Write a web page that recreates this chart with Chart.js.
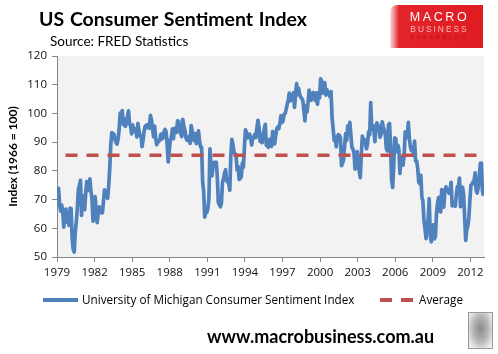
<!DOCTYPE html>
<html>
<head>
<meta charset="utf-8">
<script src="https://cdn.jsdelivr.net/npm/chart.js@4.4.0/dist/chart.umd.min.js"></script>
<style>
  html, body { margin: 0; padding: 0; background: #fff; }
  #wrap { position: relative; width: 498px; height: 354px; overflow: hidden; }
  #chart { position: absolute; left: 0; top: 0; }
  .txt { position: absolute; white-space: nowrap; }
  #title { left: 39px; top: 9.4px; font: bold 19.5px/19.5px Lato, sans-serif; word-spacing: 1px; color: #000; }
  #source { left: 50px; top: 34.7px; font: 13.5px/13.5px Lato, sans-serif; color: #000; }
  #logo { position: absolute; left: 390px; top: 5px; width: 93px; height: 43px;
          border-top-left-radius: 7px;
          background: linear-gradient(90deg, rgba(235,60,60,0.15) 0px, #e3252b 9px, #e01b22 100%); }
  .logo-line { position: absolute; left: 393px; width: 93px; text-align: center;
               font-family: "Liberation Sans", Arial, sans-serif; }
  #macro { top: 11.4px; font-size: 12.5px; line-height: 12.5px; letter-spacing: 2.6px; color: #fff; }
  #business { top: 24.9px; font-size: 8.4px; line-height: 8.4px; letter-spacing: 2px; color: #f6b9b9; }
  #superblog { top: 35px; font-size: 5.6px; line-height: 5.6px; letter-spacing: 2.6px; color: #b3141a; }
  .leg { font: 11.7px/11.7px "Open Sans", sans-serif; top: 293.5px; color: #000; }
  .swatch { position: absolute; top: 298px; height: 3.5px; }
  #url { left: 207px; top: 327.3px; font: bold 18px/18px Lato, sans-serif; color: #000; }
  #wolf { position: absolute; left: 468px; top: 312px; width: 23px; height: 35px;
          border: 1px solid #9a9a9a;
          background: radial-gradient(ellipse at 50% 45%, #8a8a8a 0%, #b4b4b4 45%, #e6e6e6 80%, #f4f4f4 100%); }
</style>
</head>
<body>
<div id="wrap">
  <canvas id="chart" width="498" height="354"></canvas>
  <div class="txt" id="title">US Consumer Sentiment Index</div>
  <div class="txt" id="source">Source: FRED Statistics</div>
  <div id="logo"></div>
  <div class="txt logo-line" id="macro">MACRO</div>
  <div class="txt logo-line" id="business">BUSINESS</div>
  <div class="txt logo-line" id="superblog">SUPERBLOG</div>
  <div class="swatch" style="left:43px;width:35px;background:#4F81BD;"></div>
  <div class="txt leg" style="left:82px;">University of Michigan Consumer Sentiment Index</div>
  <div class="swatch" style="left:380px;width:12px;background:#C0504D;"></div>
  <div class="swatch" style="left:401px;width:12px;background:#C0504D;"></div>
  <div class="txt leg" style="left:419px;">Average</div>
  <div class="txt" id="url">www.macrobusiness.com.au</div>
  <div id="wolf"></div>
</div>
<script>
'use strict';

// monthly values, Jan 1979 .. Jan 2013
let startYear = 1979;
let sentiment = [
  72.1, 73.9, 68.4, 66.0, 68.1, 65.8, 60.4, 64.5, 66.7, 62.1, 63.3, 61.0,
  67.0, 66.9, 56.5, 52.7, 51.7, 58.7, 62.3, 67.3, 73.7, 75.0, 76.7, 64.5,
  71.4, 66.9, 66.5, 72.4, 76.3, 73.1, 74.1, 77.2, 73.1, 70.3, 62.5, 64.3,
  71.0, 66.5, 62.0, 65.5, 67.5, 65.7, 65.4, 65.4, 69.3, 73.4, 72.1, 71.9,
  70.4, 74.6, 80.8, 89.1, 93.3, 92.2, 92.8, 90.9, 89.9, 89.3, 91.1, 94.2,
  100.1, 97.4, 101.0, 96.1, 98.1, 95.5, 96.6, 99.1, 100.9, 96.3, 95.7, 92.9,
  96.0, 93.7, 93.7, 94.6, 91.8, 96.5, 94.0, 92.4, 92.1, 88.4, 90.9, 93.9,
  95.6, 95.9, 95.1, 96.2, 94.8, 99.3, 97.7, 94.9, 91.9, 95.6, 91.4, 89.1,
  90.4, 90.2, 90.8, 92.8, 91.1, 91.5, 93.7, 94.4, 93.6, 89.3, 83.1, 86.8,
  90.8, 91.6, 94.6, 91.2, 94.8, 94.7, 93.4, 97.4, 97.3, 94.1, 93.0, 91.9,
  97.9, 95.4, 94.3, 91.5, 90.7, 90.6, 92.0, 89.6, 95.8, 93.9, 90.9, 90.5,
  93.0, 89.5, 91.3, 93.9, 90.6, 88.3, 88.2, 76.4, 72.8, 63.9, 66.0, 65.5,
  66.8, 70.4, 87.7, 81.8, 78.3, 82.1, 82.9, 82.0, 83.0, 78.3, 69.1, 68.2,
  67.5, 68.8, 76.0, 77.2, 79.2, 80.4, 76.6, 76.1, 75.6, 73.3, 85.3, 91.0,
  89.3, 86.6, 85.9, 85.6, 80.3, 81.5, 77.0, 77.3, 77.9, 82.7, 81.2, 88.2,
  94.3, 93.2, 91.5, 92.6, 92.8, 91.2, 89.0, 91.7, 91.5, 92.7, 91.6, 95.1,
  97.6, 95.1, 90.3, 92.5, 89.8, 92.7, 94.4, 96.2, 88.9, 90.2, 88.2, 91.0,
  89.3, 88.5, 93.7, 92.7, 89.4, 92.4, 94.7, 95.3, 94.7, 96.5, 99.2, 96.9,
  97.4, 99.7, 100.0, 101.4, 103.2, 104.5, 107.1, 104.4, 106.0, 105.6, 107.2, 102.1,
  106.6, 110.4, 106.5, 108.7, 106.5, 105.6, 105.2, 104.4, 100.9, 97.4, 102.7, 100.5,
  103.9, 108.1, 105.7, 104.6, 106.8, 107.3, 106.0, 104.5, 107.2, 103.2, 107.2, 105.4,
  112.0, 111.3, 107.1, 109.2, 110.7, 106.4, 108.3, 107.3, 106.8, 105.8, 107.6, 98.4,
  94.7, 90.6, 91.5, 88.4, 92.0, 92.6, 92.4, 91.5, 81.8, 82.7, 83.9, 88.8,
  93.0, 90.7, 95.7, 93.0, 96.9, 92.4, 88.1, 87.6, 86.1, 80.6, 84.2, 86.7,
  82.4, 79.9, 77.6, 86.0, 92.1, 89.7, 90.9, 89.3, 87.7, 89.6, 93.7, 92.6,
  103.8, 94.4, 95.8, 94.2, 90.2, 95.6, 96.7, 95.9, 94.2, 91.7, 92.8, 97.1,
  95.5, 94.1, 92.6, 87.7, 86.9, 96.0, 96.5, 89.1, 76.9, 74.2, 81.6, 91.5,
  91.2, 86.7, 88.9, 87.4, 79.1, 84.9, 84.7, 82.0, 85.4, 93.6, 92.1, 91.7,
  96.9, 91.3, 88.4, 87.1, 88.3, 85.3, 90.4, 83.4, 83.4, 80.9, 76.1, 75.5,
  78.4, 70.8, 69.5, 62.6, 59.8, 56.4, 61.2, 63.0, 70.3, 57.6, 55.3, 60.1,
  61.2, 56.3, 57.3, 65.1, 68.7, 70.8, 66.0, 65.7, 73.5, 70.6, 67.4, 72.5,
  74.4, 73.6, 73.6, 72.2, 73.6, 76.0, 67.8, 68.9, 68.2, 67.7, 71.6, 74.5,
  74.2, 77.5, 67.5, 69.8, 74.3, 71.5, 63.7, 55.8, 59.5, 60.8, 63.7, 69.9,
  75.0, 75.3, 76.2, 76.4, 79.3, 73.2, 72.3, 74.3, 78.3, 82.6, 82.7, 72.9,
  71.3
];
let averageLevel = 85.4;
let yearTicks = [1979, 1982, 1985, 1988, 1991, 1994, 1997, 2000, 2003, 2006, 2009, 2012];
let valueTicks = [50, 60, 70, 80, 90, 100, 110, 120];

let sentimentPoints = sentiment.map(function (v, i) {
  return { x: startYear + (i + 0.5) / 12, y: v };
});
let firstX = sentimentPoints[0].x;
let lastX = sentimentPoints[sentimentPoints.length - 1].x;
let averagePoints = [{ x: firstX, y: averageLevel }, { x: lastX, y: averageLevel }];

let plotBackground = {
  id: 'plotBackground',
  beforeDraw: function (chart) {
    let area = chart.chartArea;
    let ctx = chart.ctx;
    ctx.save();
    ctx.fillStyle = '#F2F2F2';
    ctx.fillRect(area.left, area.top, area.right - area.left, area.bottom - area.top);
    ctx.restore();
  }
};

let tickFont = { family: 'Open Sans', size: 11.5 };

new Chart(document.getElementById('chart').getContext('2d'), {
  type: 'line',
  data: {
    datasets: [
      {
        label: 'Average',
        data: averagePoints,
        borderColor: '#C0504D',
        borderWidth: 3.5,
        borderDash: [12, 9],
        borderDashOffset: 13,
        borderCapStyle: 'butt',
        pointRadius: 0,
        fill: false,
        order: 0
      },
      {
        label: 'University of Michigan Consumer Sentiment Index',
        data: sentimentPoints,
        borderColor: '#4F81BD',
        borderWidth: 3.7,
        borderJoinStyle: 'round',
        pointRadius: 0,
        tension: 0,
        fill: false,
        order: 1
      }
    ]
  },
  options: {
    responsive: false,
    animation: false,
    layout: { padding: { left: 0, right: 14, top: 56, bottom: 75 } },
    plugins: {
      legend: { display: false },
      tooltip: { enabled: false }
    },
    scales: {
      x: {
        type: 'linear',
        min: startYear,
        max: startYear + sentiment.length / 12,
        afterBuildTicks: function (scale) {
          scale.ticks = yearTicks.map(function (v) { return { value: v }; });
        },
        afterFit: function (scale) { scale.height = 22; },
        grid: { drawOnChartArea: false, drawTicks: true, tickLength: 5, color: '#868686' },
        border: { display: true, color: '#868686', width: 1 },
        ticks: {
          font: tickFont,
          color: '#111',
          padding: 4,
          maxRotation: 0,
          autoSkip: false,
          callback: function (v) { return String(v); }
        }
      },
      y: {
        min: 50,
        max: 120,
        afterBuildTicks: function (scale) {
          scale.ticks = valueTicks.map(function (v) { return { value: v }; });
        },
        afterFit: function (scale) { scale.width = 57; },
        grid: { drawOnChartArea: false, drawTicks: true, tickLength: 5, color: '#868686' },
        border: { display: true, color: '#868686', width: 1 },
        ticks: { font: tickFont, color: '#111', padding: 5 },
        title: {
          display: true,
          text: 'Index (1966 = 100)',
          font: { family: 'Lato', size: 12, weight: 'bold' },
          color: '#000',
          padding: { top: 6, bottom: 0 }
        }
      }
    }
  },
  plugins: [plotBackground]
});
</script>
</body>
</html>
